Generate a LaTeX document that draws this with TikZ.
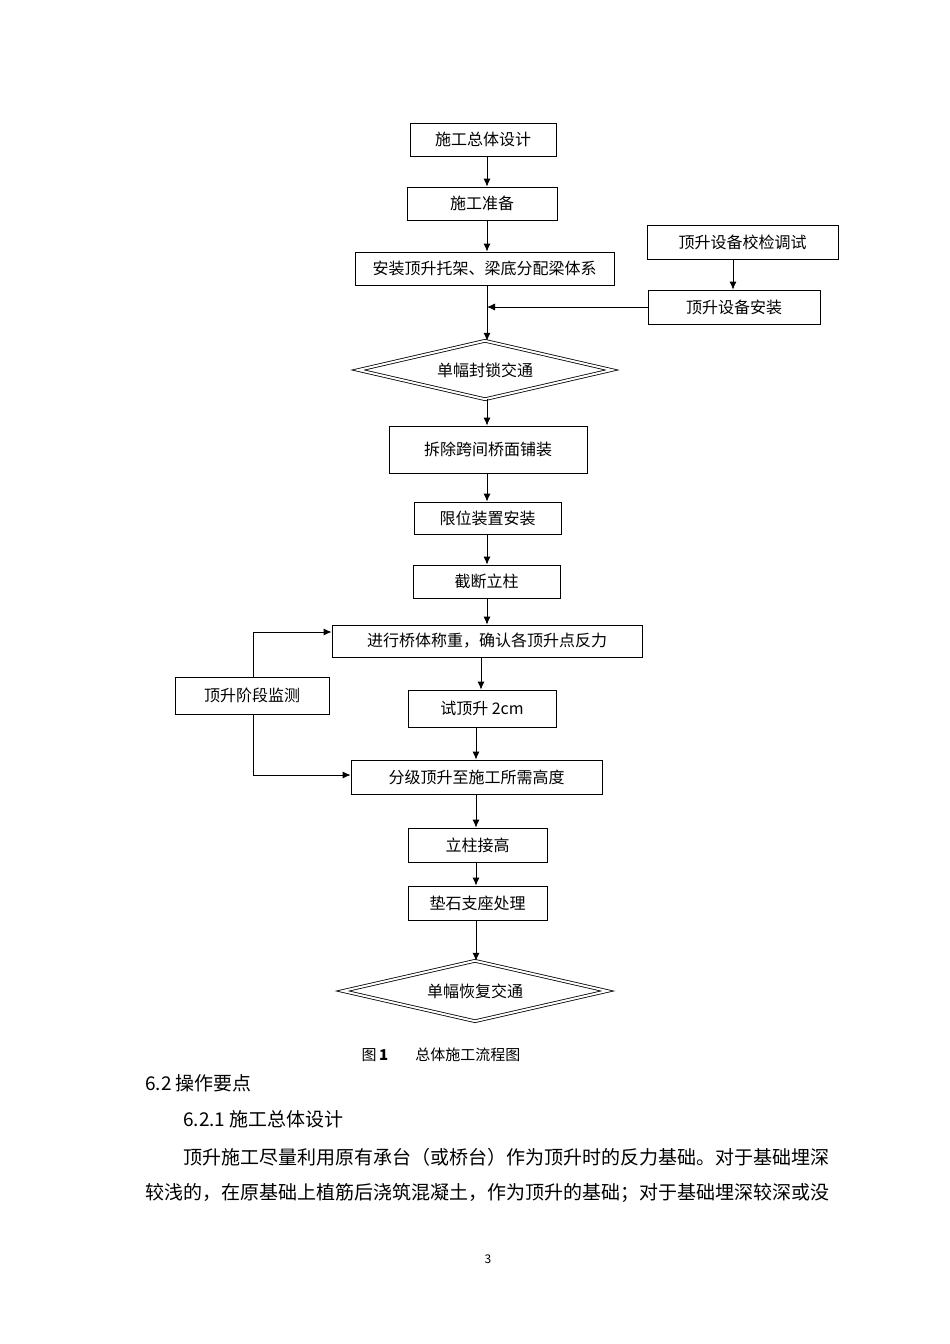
\documentclass[tikz,border=0pt]{standalone}
\usepackage{fontspec}
\setmainfont{Noto Sans CJK SC}
\usetikzlibrary{shapes.geometric,arrows.meta}
\begin{document}
\begin{tikzpicture}[x=1pt,y=-1pt,
  box/.style={draw,thick,minimum height=33,inner sep=0,font=\fontsize{16}{18}\selectfont},
  dia/.style={inner sep=0,font=\fontsize{16}{18}\selectfont},
  diaborder/.style={draw,double,double distance=2pt,thick},
  arr/.style={-{Latex[length=8,width=7]},thick},
  txt/.style={anchor=west,inner sep=0,font=\fontsize{19}{22}\selectfont}]
\useasboundingbox (0,0) rectangle (950,1344);
\node[box,minimum width=146] (a) at (483,139.5) {施工总体设计};
\node[box,minimum width=150] (b) at (482,203.5) {施工准备};
\node[box,minimum width=259] (c) at (484.5,268.5) {安装顶升托架、梁底分配梁体系};
\node[box,minimum width=191,minimum height=34] (d) at (742.5,242) {顶升设备校检调试};
\node[box,minimum width=172,minimum height=34] (e) at (734,307) {顶升设备安装};
\node[dia,minimum width=253,minimum height=58] (f) at (485,370) {单幅封锁交通};
\draw[diaborder] (f.north) -- (f.east) -- (f.south) -- (f.west) -- cycle;
\node[box,minimum width=198,minimum height=47] (g) at (488,449.5) {拆除跨间桥面铺装};
\node[box,minimum width=147,minimum height=32] (h) at (487.5,518) {限位装置安装};
\node[box,minimum width=147] (i) at (486.5,581.5) {截断立柱};
\node[box,minimum width=310,minimum height=32] (j) at (487,641) {进行桥体称重，确认各顶升点反力};
\node[box,minimum width=154,minimum height=37] (k) at (252,695.5) {顶升阶段监测};
\node[box,minimum width=148,minimum height=37] (l) at (482,708.5) {试顶升 2cm};
\node[box,minimum width=251,minimum height=34] (m) at (476.5,777) {分级顶升至施工所需高度};
\node[box,minimum width=139,minimum height=34] (n) at (477.5,845) {立柱接高};
\node[box,minimum width=139,minimum height=34] (o) at (477.5,903) {垫石支座处理};
\node[dia,minimum width=264,minimum height=60] (p) at (475,991) {单幅恢复交通};
\draw[diaborder] (p.north) -- (p.east) -- (p.south) -- (p.west) -- cycle;
\draw[arr] (a.south-|487,0) -- (b.north-|487,0);
\draw[arr] (b.south-|487,0) -- (c.north-|487,0);
\draw[arr] (c.south-|487,0) -- (f.north-|487,0);
\draw[arr] (d.south-|733,0) -- (e.north-|733,0);
\draw[arr] (e.west) -- (487,307);
\draw[arr] (f.south-|487,0) -- (g.north-|487,0);
\draw[arr] (g.south-|487,0) -- (h.north-|487,0);
\draw[arr] (h.south-|487,0) -- (i.north-|487,0);
\draw[arr] (i.south-|487,0) -- (j.north-|487,0);
\draw[arr] (j.south-|481,0) -- (l.north-|481,0);
\draw[arr] (l.south-|476,0) -- (m.north-|476,0);
\draw[arr] (m.south-|476,0) -- (n.north-|476,0);
\draw[arr] (n.south-|476,0) -- (o.north-|476,0);
\draw[arr] (o.south-|476,0) -- (p.north-|476,0);
\draw[arr] (k.north-|253,0) -- (253,632) -- (j.west|-0,632);
\draw[arr] (k.south-|253,0) -- (253,775) -- (m.west|-0,775);
\node[inner sep=0,font=\fontsize{15}{18}\selectfont] (cap) at (441,1055) {图\,\textbf{1}\hspace{1.8em}总体施工流程图};
\node[txt] (t1) at (145,1083) {6.2 操作要点};
\node[txt] (t2) at (183,1119) {6.2.1 施工总体设计};
\node[txt] (t3) at (183,1157) {顶升施工尽量利用原有承台（或桥台）作为顶升时的反力基础。对于基础埋深};
\node[txt] (t4) at (145,1193) {较浅的，在原基础上植筋后浇筑混凝土，作为顶升的基础；对于基础埋深较深或没};
\node[inner sep=0,font=\fontsize{12}{14}\selectfont] (pg) at (488,1259) {3};
\end{tikzpicture}
\end{document}
